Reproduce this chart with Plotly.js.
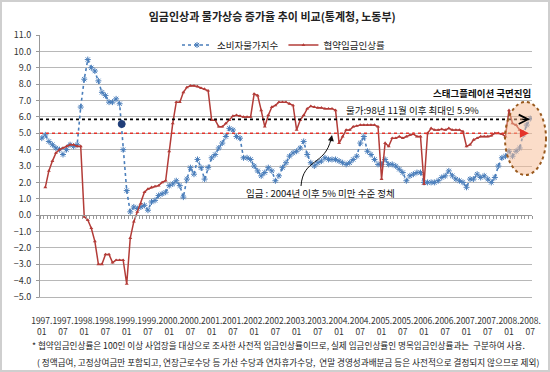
<!DOCTYPE html>
<html><head><meta charset="utf-8">
<script src="https://cdn.plot.ly/plotly-3.0.1.min.js"></script>
<style>
html,body{margin:0;padding:0;background:#fff}
#frame{position:absolute;left:0;top:0;width:550px;height:372px;box-sizing:border-box;border:2px solid #cfcfcf;pointer-events:none}
</style>
</head><body>
<div id="chart" style="width:550px;height:372px"></div><div id="frame"></div>
<script>
// ---- categories ----
const years = [1997,1998,1999,2000,2001,2002,2003,2004,2005,2006,2007,2008];
const monthNames = ["01","02","03","04","05","06","07","08","09","10","11","12"];
const lastMonth = "2008.07";
const months = [];
outer: for (const y of years) { for (const m of monthNames) { months.push(y + "." + m); if (y + "." + m === lastMonth) break outer; } }
const tickMonths = months.filter(s => s.endsWith(".01") || s.endsWith(".07"));
const tickLabels = tickMonths.map(s => s.replace(".", ".<br>"));

// ---- series (%) ----
const cpi = [
 4.7,4.9,4.5,4.3,4.1,4.0,3.7,4.0,4.3,4.2,4.3,6.6,
 8.3,9.5,9.0,8.8,8.2,7.5,7.3,6.9,6.9,7.1,6.8,4.0,
 1.5,0.2,0.5,0.4,0.5,0.6,0.3,0.8,0.9,1.2,1.3,1.4,
 1.8,1.9,2.1,1.8,1.1,2.2,2.9,2.5,3.4,2.9,2.2,2.9,
 3.5,3.7,4.1,4.4,4.8,5.3,5.2,4.8,4.7,3.5,3.5,3.4,
 3.0,2.7,2.4,2.6,2.9,2.7,2.1,2.4,2.9,3.2,3.6,3.8,
 3.9,4.1,4.5,3.7,3.2,3.0,3.2,3.3,3.5,3.4,3.4,3.4,
 3.3,3.2,3.1,3.2,3.4,3.6,4.4,4.8,3.9,3.7,3.4,3.1,
 3.1,3.4,3.1,3.1,3.0,2.8,2.6,2.1,2.4,2.5,2.6,2.6,
 2.0,2.0,2.0,2.0,2.1,2.3,2.4,2.7,2.4,2.2,2.1,2.0,
 1.7,2.2,2.2,2.5,2.3,2.4,2.2,2.0,2.3,3.0,3.5,3.6,
 3.9,3.6,3.9,4.1,4.9,5.5,5.9
];
const wage = [
 null,1.7,2.7,3.3,3.8,4.0,4.1,4.2,4.3,4.3,4.2,4.2,
 -0.1,-0.3,-0.8,-1.6,-3.0,-3.0,-2.4,-2.4,-2.9,-2.75,-2.75,-2.75,
 -4.2,-1.4,-0.4,0.2,0.7,1.4,1.6,1.7,1.75,1.8,2.0,2.1,
 3.9,5.6,6.9,6.9,7.5,7.8,7.9,7.9,7.85,7.75,7.7,7.6,
 5.8,5.8,5.4,5.4,5.6,5.8,6.05,6.1,6.05,6.0,6.0,6.0,
 7.4,7.3,6.4,5.4,6.1,6.6,6.7,6.9,6.9,6.9,6.8,6.7,
 5.2,5.8,6.1,6.5,6.65,6.6,6.55,6.55,6.5,6.5,6.5,6.4,
 4.4,4.8,5.2,5.2,5.4,5.45,5.5,5.5,5.5,5.5,5.5,5.4,
 2.2,4.4,4.2,4.7,4.7,4.8,4.7,4.8,4.9,4.95,4.8,4.8,
 1.9,5.0,5.3,5.2,5.2,5.25,5.2,5.3,5.2,5.2,5.2,5.1,
 4.2,4.3,4.6,4.7,4.8,4.8,4.8,4.85,5.0,5.0,4.95,4.8,
 6.4,5.6,5.5,5.2,5.1,null,null
];
const seriesNames = ["소비자물가지수", "협약임금인상률"];
const priceLevel = 5.85;   // 물가 최대치 기준선
const wageLevel = 5.0;     // 임금 5% 기준선

const F = "Noto Sans CJK KR, Noto Sans, sans-serif";

const traces = [
  {x: months, y: cpi, name: seriesNames[0], type: "scatter", mode: "lines+markers",
   line: {color: "#4a7ebb", width: 1.6, dash: "dot"},
   marker: {symbol: "asterisk-open", size: 5, line: {width: 1, color: "#4a7ebb"}, color: "#4a7ebb"}},
  {x: months, y: wage, name: seriesNames[1], type: "scatter", mode: "lines+markers",
   line: {color: "#b33c38", width: 1.5}, connectgaps: false,
   marker: {symbol: "triangle-up", size: 3.5, color: "#b33c38"}},
  {x: [0, 1], y: [null, null], xaxis: "x2", yaxis: "y", type: "scatter", mode: "lines",
   showlegend: false, hoverinfo: "skip"}
];

const px = v => (v - 40) / 492;      // pixel -> paper x
const py = v => (297 - v) / 262;     // pixel -> paper y

const note = (x, y, text, size, extra) => Object.assign({xref: "paper", yref: "paper", x: px(x), y: py(y),
  xanchor: "center", yanchor: "middle", showarrow: false, text: text, font: {size: size, color: "#111", family: F}}, extra || {});

const layout = {
  width: 550, height: 372,
  margin: {l: 40, r: 18, t: 35, b: 75},
  paper_bgcolor: "#fff", plot_bgcolor: "#fff",
  font: {family: F, size: 9, color: "#333"},
  title: {text: "<b>임금인상과 물가상승 증가율 추이 비교(통계청, 노동부)</b>", font: {size: 11, color: "#222", family: F},
          x: 0.495, xanchor: "center", y: 1 - 17/372, yanchor: "middle"},
  showlegend: true,
  legend: {orientation: "h", x: px(177), xanchor: "left", y: py(45), yanchor: "middle",
           font: {size: 9.5, color: "#222"}, bgcolor: "rgba(0,0,0,0)", itemwidth: 30, tracegroupgap: 0},
  xaxis: {type: "category", range: [-0.5, months.length - 0.5], tickmode: "array", tickvals: tickMonths, ticktext: tickLabels,
          tickangle: 0, ticks: "", showgrid: false, zeroline: false, showline: true, linecolor: "#b5b5b5",
          tickfont: {size: 8.5, color: "#333"}, ticklabelstandoff: 16},
  xaxis2: {type: "linear", overlaying: "x", anchor: "free", position: 5/16, range: [-0.5, months.length - 0.5],
           tickmode: "linear", tick0: 0.5, dtick: 1, ticks: "outside", ticklen: 3, tickcolor: "#999", tickwidth: 1,
           showticklabels: false, showgrid: false, zeroline: false, showline: true, linecolor: "#999"},
  yaxis: {range: [-5, 11], dtick: 1, tickformat: ".1f", showgrid: true, gridcolor: "#b8b8b8", gridwidth: 1,
          zeroline: false, showline: true, linecolor: "#999", ticks: "outside", ticklen: 3, tickcolor: "#999",
          tickfont: {size: 9, color: "#333"}, ticklabelstandoff: 3},
  shapes: [
    {type: "line", xref: "paper", yref: "y", x0: 0, x1: px(524), y0: priceLevel, y1: priceLevel,
     line: {color: "#000", width: 1.6, dash: "dot"}},
    {type: "line", xref: "paper", yref: "y", x0: 0, x1: px(522), y0: wageLevel, y1: wageLevel,
     line: {color: "#e5332a", width: 1.6, dash: "dot"}},
    {type: "circle", xref: "paper", yref: "paper", x0: px(505), x1: px(546), y0: py(175), y1: py(102),
     fillcolor: "rgba(247,188,148,0.5)", line: {color: "#9a5a1e", width: 2, dash: "dot"}, layer: "above"},
    {type: "circle", xref: "paper", yref: "paper", x0: px(118.2), x1: px(125.2), y0: py(127.5), y1: py(120.5),
     fillcolor: "#1f3d78", line: {color: "#1f3d78", width: 1}},
    {type: "path", xref: "paper", yref: "paper",
     path: `M${px(301)},${py(186)} C${px(303)},${py(158)} ${px(325)},${py(166)} ${px(331)},${py(139)}`,
     line: {color: "#111", width: 1}}
  ],
  annotations: [
    {xref: "paper", yref: "y", x: px(530), y: priceLevel, ax: -9, ay: 0, text: "", showarrow: true,
     arrowhead: 5, arrowsize: 1.3, arrowwidth: 1.4, arrowcolor: "#000"},
    {xref: "paper", yref: "y", x: px(529), y: wageLevel, ax: -9, ay: 0, text: "", showarrow: true,
     arrowhead: 2, arrowsize: 1.3, arrowwidth: 1.4, arrowcolor: "#e5332a"},
    {xref: "paper", yref: "paper", x: px(332), y: py(135), ax: -1.5, ay: 8, text: "", showarrow: true,
     arrowhead: 2, arrowsize: 1.2, arrowwidth: 1, arrowcolor: "#111"},
    note(412, 110, "물가:98년 11월 이후 최대인 5.9%", 9.5),
    note(482, 93, "<b>스태그플레이션 국면진입</b>", 9.5),
    note(320, 193, "임금 : 2004년 이후 5% 미만 수준 정체", 9.5),
    note(30, 345, "* 협약임금인상률은 100인 이상 사업장을 대상으로 조사한 사전적 임금인상률이므로, 실제 임금인상률인 명목임금인상률과는  구분하여 사용.",
         8.6, {xanchor: "left", font: {size: 8.6, color: "#222", family: F}}),
    note(35, 362, "( 정액급여, 고정상여금만 포함되고, 연장근로수당 등 가산 수당과 연차휴가수당,  연말 경영성과배분금 등은 사전적으로 결정되지 않으므로 제외)",
         8.6, {xanchor: "left", font: {size: 8.6, color: "#222", family: F}})
  ]
};

Plotly.newPlot("chart", traces, layout, {displayModeBar: false, staticPlot: true});
</script>
</body></html>
